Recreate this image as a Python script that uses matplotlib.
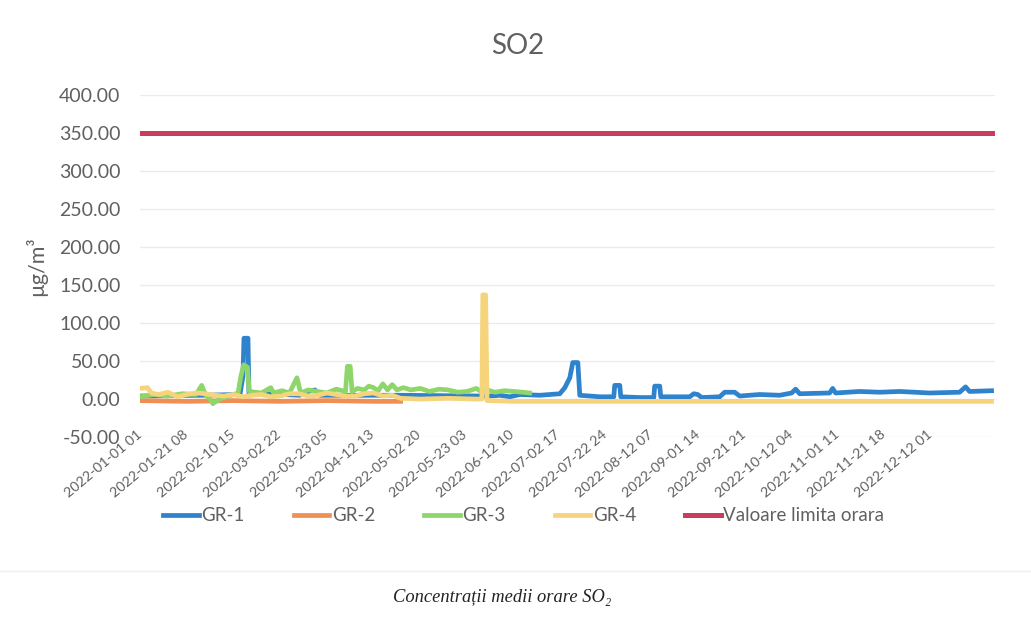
import matplotlib.pyplot as plt

# valori orare (indice ora, valoare ug/m3)
gr1_hours = [0, 642, 1070, 1102, 1113, 1156, 1166, 1712, 1798, 1873, 1926, 2782, 3638,
             3745, 3852, 3959, 4066, 4280, 4494, 4548, 4601, 4633, 4687, 4708, 4922,
             5072, 5082, 5136, 5147, 5350, 5500, 5510, 5564, 5575, 5885, 5928, 5971,
             6013, 6206, 6259, 6366, 6420, 6634, 6848, 6976, 7019, 7062, 7383, 7415,
             7447, 7704, 7918, 8132, 8453, 8774, 8838, 8881, 9116]
gr1_values = [4, 5, 6, 30, 80, 80, 8, 5, 10, 12, 5, 5, 4,
              4, 5, 3, 6, 5, 7, 15, 28, 48, 48, 5, 3,
              3, 18, 18, 3, 2, 2, 17, 17, 3, 3, 7, 6,
              2, 3, 9, 9, 4, 6, 5, 8, 13, 7, 8, 14,
              8, 10, 9, 10, 8, 9, 16, 10, 11]

gr2_hours = [0, 500, 1000, 1500, 2000, 2500, 2790]
gr2_values = [-2, -3, -2, -3, -2, -3, -3]

gr3_hours = [0, 150, 300, 450, 600, 660, 700, 750, 780, 850, 950, 1050, 1080, 1110,
             1150, 1170, 1300, 1400, 1430, 1520, 1600, 1680, 1720, 1800, 1900, 2000,
             2100, 2200, 2220, 2250, 2270, 2330, 2400, 2450, 2500, 2550, 2600, 2650,
             2700, 2750, 2820, 2900, 3000, 3100, 3200, 3300, 3400, 3500, 3600, 3650,
             3720, 3800, 3900, 4000, 4100, 4170]
gr3_values = [3, 6, 4, 7, 6, 18, 6, 0, -6, 0, 4, 8, 30, 45,
              42, 10, 8, 15, 8, 11, 8, 28, 8, 12, 10, 8,
              13, 10, 43, 43, 10, 14, 12, 17, 15, 11, 20, 12,
              19, 12, 15, 12, 14, 10, 13, 12, 9, 10, 14, 10,
              12, 9, 11, 10, 9, 8]

gr4_hours = [0, 80, 120, 200, 300, 400, 500, 600, 700, 800, 900, 1000, 1100, 1200,
             1300, 1400, 1500, 1600, 1700, 1800, 1900, 2000, 2100, 2200, 2300, 2400,
             2500, 2600, 2700, 2790, 3000, 3300, 3600, 3660, 3670, 3700, 3715, 4000,
             6000, 9116]
gr4_values = [14, 15, 8, 6, 9, 3, 6, 8, 7, 5, 4, 6, 3, 5,
              6, 3, 4, 7, 7, 4, 5, 8, 6, 4, 4, 7,
              8, 4, 5, 1, 0, 1, 0, 0, 137, 137, -2, -3,
              -3, -3]

limit_value = 350
last_hour = 9116
tick_step = 498
tick_labels = ["2022-01-01 01", "2022-01-21 08", "2022-02-10 15", "2022-03-02 22",
               "2022-03-23 05", "2022-04-12 13", "2022-05-02 20", "2022-05-23 03",
               "2022-06-12 10", "2022-07-02 17", "2022-07-22 24", "2022-08-12 07",
               "2022-09-01 14", "2022-09-21 21", "2022-10-12 04", "2022-11-01 11",
               "2022-11-21 18", "2022-12-12 01"]


def main():
    plt.rcParams["font.family"] = ["Lato", "DejaVu Sans"]
    gray = "#606060"

    fig = plt.figure(figsize=(10.31, 6.2), dpi=100)
    ax = fig.add_axes([0.1358, 0.295, 0.829, 0.552])

    lw = 3.4
    ax.plot(gr1_hours, gr1_values, color="#2F82CC", lw=lw, label="GR-1")
    ax.plot(gr2_hours, gr2_values, color="#EE9055", lw=lw, label="GR-2")
    ax.plot(gr3_hours, gr3_values, color="#8FD66A", lw=lw, label="GR-3")
    ax.plot(gr4_hours, gr4_values, color="#F5D47C", lw=lw, label="GR-4")
    ax.plot([0, last_hour], [limit_value, limit_value], color="#C93C5E", lw=3.6,
            label="Valoare limita orara")

    ax.set_xlim(0, 9150)
    ax.set_ylim(-50, 400)
    ax.set_yticks(range(-50, 401, 50))
    ax.set_yticklabels([f"{v:.2f}" for v in range(-50, 401, 50)])
    ax.set_xticks([i * tick_step for i in range(len(tick_labels))])
    ax.set_xticklabels(tick_labels, rotation=40, ha="right", va="center",
                       rotation_mode="anchor")

    ax.tick_params(axis="both", length=0, colors=gray)
    ax.tick_params(axis="x", pad=-3, labelsize=10.3)
    ax.tick_params(axis="y", pad=14, labelsize=14)
    for side in ax.spines.values():
        side.set_visible(False)
    ax.grid(axis="y", color="#EBEBEB", lw=1)
    ax.set_axisbelow(True)

    ax.set_ylabel("µg/m³", color=gray, fontsize=15.5)
    ax.yaxis.set_label_coords(-0.109, 0.5)

    fig.text(0.502, 0.926, "SO2", ha="center", va="center", fontsize=20, color=gray)

    fig.legend(loc="center", bbox_to_anchor=(0.508, 0.168), ncol=5, frameon=False,
               fontsize=13.5, handlelength=1.9, handletextpad=0.15, columnspacing=2.6,
               labelcolor=gray)

    fig.add_artist(plt.Line2D([0, 1], [0.079, 0.079], color="#EEEEEE", lw=1))
    fig.text(0.487, 0.037, "Concentrații medii orare SO₂", ha="center", va="center",
             fontsize=13.3, style="italic", color="#222222",
             family=["Liberation Serif", "DejaVu Serif"])

    plt.savefig("out.png", dpi=100)
    plt.close()


if __name__ == "__main__":
    main()
